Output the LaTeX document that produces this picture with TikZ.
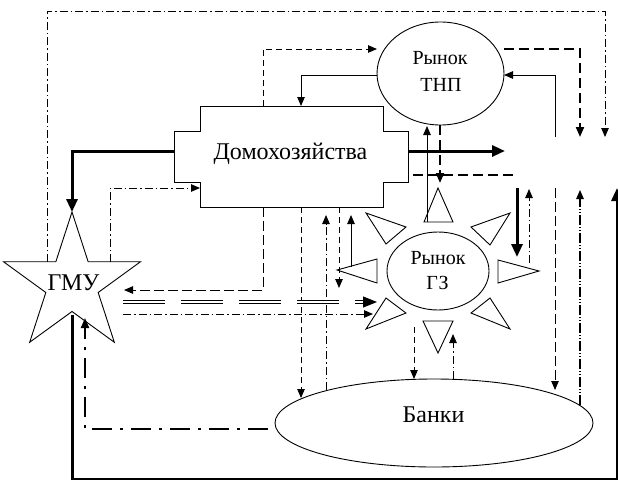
\documentclass[tikz,border=0pt]{standalone}
\usepackage{fontspec}
\setmainfont{Liberation Serif}
\usetikzlibrary{arrows.meta,shapes.geometric,calc}
\begin{document}
\begin{tikzpicture}[x=1pt,y=-1pt,
  ln/.style={line width=0.9pt},
  tip/.style={-{Triangle[length=9pt,width=7.5pt]}},
  bigtip/.style={-{Triangle[length=13pt,width=11pt]}},
  thk/.style={line width=3pt},
  dsh/.style={ln,dash pattern=on 6pt off 4pt},
  ldsh/.style={ln,dash pattern=on 10pt off 4pt},
  thdsh/.style={line width=2pt,dash pattern=on 10pt off 5pt},
  dd/.style={ln,dash pattern=on 8pt off 3pt on 1.5pt off 3pt},
  ddd/.style={line width=1.1pt,dash pattern=on 10pt off 2pt on 1pt off 2pt on 1pt off 2pt},
  tdd/.style={line width=2pt,dash pattern=on 20pt off 8pt on 3pt off 8pt},
  dbl/.style={line width=1.2pt,double,double distance=1.3pt,dash pattern=on 42pt off 16pt},
  tri/.style={draw,ln,fill=white,line join=miter},
  bigfont/.style={font=\fontsize{24}{28}\selectfont},
  smallfont/.style={font=\fontsize{20}{24}\selectfont},
  lbl/.style={anchor=base,inner sep=0pt}
]
\useasboundingbox (0,0) rectangle (618,479);

% --- shapes ---
\draw[ln,line join=miter] (200,106) -- (383,106) -- (383,131) -- (408,131) -- (408,182) -- (383,182)
  -- (383,207) -- (200,207) -- (200,182) -- (174,182) -- (174,131) -- (200,131) -- cycle;
\node[rectangle,minimum width=183pt,minimum height=101pt,inner sep=0pt] (hh) at (291.5,156.5) {};
\node[lbl,bigfont] (hht) at (290.5,159) {Домохозяйства};

\node[ellipse,draw,ln,minimum width=127pt,minimum height=103pt,inner sep=0pt] (tnp) at (440.5,73.5) {};
\node[lbl,smallfont] (tnp1) at (440,64) {Рынок};
\node[lbl,smallfont] (tnp2) at (441,91) {ТНП};

\node[ellipse,draw,ln,minimum width=102pt,minimum height=78pt,inner sep=0pt] (gz) at (438,271) {};
\node[lbl,smallfont] (gz1) at (438,264.5) {Рынок};
\node[lbl,smallfont] (gz2) at (437.5,289) {ГЗ};

% sun rays
\draw[tri] (438,188) -- (424,222) -- (453,222) -- cycle;
\draw[tri] (438,353) -- (423,321) -- (453,321) -- cycle;
\draw[tri] (337,270) -- (377,259) -- (377,283) -- cycle;
\draw[tri] (539,271) -- (498,260) -- (498,283) -- cycle;
\draw[tri] (366,213) -- (406,227) -- (386,244) -- cycle;
\draw[tri] (510,213) -- (471,227) -- (490,245) -- cycle;
\draw[tri] (366,329) -- (386,298) -- (406,313) -- cycle;
\draw[tri] (510,329) -- (490,298) -- (471,313) -- cycle;

\node[ellipse,draw,ln,minimum width=318pt,minimum height=88pt,inner sep=0pt] (banki) at (434,423) {};
\node[lbl,bigfont] (bankit) at (433.5,422) {Банки};

\node[star,star points=5,star point ratio=2.618,minimum size=144pt,inner sep=0pt,draw,ln,line join=miter] (gmu) at (72,284) {};
\node[lbl,bigfont] (gmut) at (73.5,290) {ГМУ};

% --- free ends ---
\coordinate (e1) at (605,137);
\coordinate (e6) at (505,151);
\coordinate (e7) at (555,137);
\coordinate (e8) at (580,137);
\coordinate (e9a) at (413,175);
\coordinate (e9b) at (517,175);
\coordinate (e9c) at (517,188);
\coordinate (e9d) at (517,257);
\coordinate (e12a) at (529,189);
\coordinate (e12b) at (555,188);
\coordinate (e12c) at (580,190);
\coordinate (e12d) at (617,188);

% --- connectors ---
\draw[dd,tip] (47,262) |- (605,11) -- (e1);
\draw[dsh,tip] (263,106) |- (377,49);
\draw[ln,tip] (377,75) -| (301,106);
\draw[thk,bigtip] (174,151) -| (72,212);
\draw[dd,tip] (110,262) |- (200,188);
\draw[thk,bigtip] (408,151) -- (e6);
\draw[ln,tip] (e7) |- (504,75);
\draw[thdsh,-{Triangle[length=10pt,width=8pt]}] (504,49) -| (e8);
\draw[thdsh] (e9a) -- (e9b);
\draw[thk,bigtip] (e9c) -- (e9d);
\draw[ln,tip] (427,222) -- (427,126);
\draw[thdsh,-{Triangle[length=10pt,width=8pt]}] (440,125) -- (440,183);

\draw[dd,tip] (529,263) -- (e12a);
\draw[ldsh,tip] (e12b) -- (555,390);
\draw[ddd,tip] (580,405) -- (e12c);
\draw[thk,bigtip] (72,315) |- (617,479.3) -- (e12d);

\draw[dsh,tip] (301,207) -- (301,398);
\draw[ldsh,tip] (263,207) |- (124,290);
\draw[dd,tip] (326,390) -- (326,215);
\draw[dsh,tip] (339,207) -- (339,288);
\draw[ln,tip] (351,267) -- (351,215);

\draw[dbl] (123,302) -- (366,302);
\draw[line width=1pt,-{Triangle[length=14pt,width=11pt]}] (363,302) -- (377,302);
\draw[dd,tip] (123,314) -- (373,314);

\draw[dsh,tip] (414,327) -- (414,379);
\draw[dd,tip] (453,379) -- (453,334);

\draw[tdd,-{Triangle[length=10pt,width=8pt]}] (268,429) -| (85,318);
\end{tikzpicture}
\end{document}
